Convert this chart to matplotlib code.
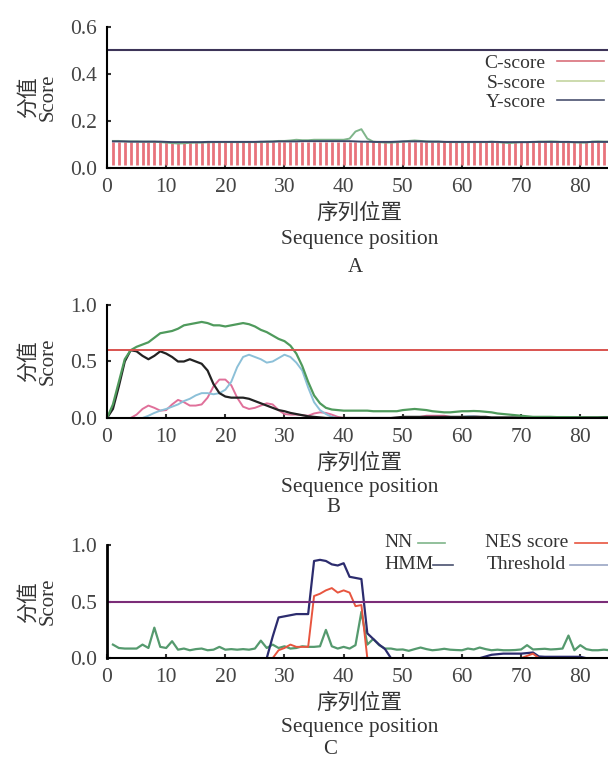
import numpy as np
import matplotlib
matplotlib.use("Agg")
import matplotlib.pyplot as plt
from matplotlib.lines import Line2D

plt.rcParams['font.family'] = ['Liberation Serif', 'Noto Sans CJK SC']
plt.rcParams['font.size'] = 15

# ---- panel A : C/S/Y scores ----
posA = np.arange(1, 86)
c_score = [0.11] * 85
s_score = [0.115, 0.115, 0.113, 0.113, 0.113, 0.112, 0.112, 0.112, 0.110, 0.108,
           0.106, 0.104, 0.105, 0.107, 0.108, 0.108, 0.109, 0.110, 0.110, 0.110,
           0.110, 0.110, 0.110, 0.110, 0.110, 0.110, 0.112, 0.113, 0.115, 0.115,
           0.117, 0.120, 0.118, 0.118, 0.120, 0.120, 0.120, 0.120, 0.120, 0.120,
           0.125, 0.155, 0.165, 0.125, 0.112, 0.110, 0.108, 0.108, 0.110, 0.112,
           0.115, 0.117, 0.115, 0.113, 0.112, 0.112, 0.111, 0.110, 0.110, 0.110,
           0.110, 0.110, 0.110, 0.110, 0.112, 0.110, 0.108, 0.106, 0.108, 0.110,
           0.110, 0.110, 0.112, 0.112, 0.113, 0.112, 0.110, 0.110, 0.109, 0.108,
           0.108, 0.112, 0.113, 0.112, 0.112]
y_score = [0.113, 0.113, 0.113, 0.112, 0.112, 0.112, 0.112, 0.112, 0.112, 0.111,
           0.110, 0.110, 0.110, 0.110, 0.110, 0.110, 0.111, 0.111, 0.111, 0.111,
           0.111, 0.111, 0.111, 0.111, 0.111, 0.112, 0.112, 0.112, 0.113, 0.113,
           0.113, 0.113, 0.114, 0.114, 0.114, 0.114, 0.114, 0.114, 0.114, 0.114,
           0.114, 0.113, 0.112, 0.112, 0.111, 0.111, 0.111, 0.111, 0.112, 0.113,
           0.113, 0.113, 0.113, 0.112, 0.112, 0.112, 0.111, 0.111, 0.111, 0.111,
           0.111, 0.111, 0.111, 0.111, 0.111, 0.111, 0.110, 0.110, 0.110, 0.110,
           0.110, 0.111, 0.111, 0.111, 0.111, 0.111, 0.111, 0.111, 0.110, 0.110,
           0.110, 0.111, 0.111, 0.111, 0.111]
cutoff_A = 0.5

# ---- panel B ----
posB = np.arange(0, 86)
b_green = [0.0, 0.12, 0.32, 0.52, 0.60, 0.63, 0.65, 0.67, 0.71, 0.75,
           0.76, 0.77, 0.79, 0.82, 0.83, 0.84, 0.85, 0.84, 0.82, 0.82,
           0.81, 0.82, 0.83, 0.84, 0.83, 0.81, 0.78, 0.76, 0.73, 0.70,
           0.68, 0.64, 0.57, 0.46, 0.32, 0.20, 0.13, 0.09, 0.075, 0.07,
           0.065, 0.065, 0.065, 0.065, 0.065, 0.06, 0.06, 0.06, 0.06, 0.06,
           0.07, 0.075, 0.08, 0.075, 0.07, 0.06, 0.055, 0.05, 0.05, 0.055,
           0.06, 0.06, 0.062, 0.06, 0.055, 0.05, 0.04, 0.035, 0.03, 0.025,
           0.02, 0.015, 0.01, 0.01, 0.01, 0.01, 0.008, 0.008, 0.008, 0.006,
           0.006, 0.005, 0.005, 0.005, 0.005, 0.005]
b_black = [0.0, 0.08, 0.28, 0.50, 0.60, 0.59, 0.55, 0.52, 0.55, 0.59,
           0.57, 0.54, 0.50, 0.50, 0.52, 0.50, 0.48, 0.42, 0.30, 0.22,
           0.19, 0.18, 0.18, 0.18, 0.17, 0.15, 0.13, 0.11, 0.09, 0.07,
           0.06, 0.045, 0.035, 0.025, 0.015, 0.01, 0.005, 0.0, 0.0, 0.0,
           0.0, 0.0, 0.0, 0.0, 0.0, 0.0, 0.0, 0.0, 0.0, 0.005,
           0.01, 0.01, 0.01, 0.01, 0.01, 0.01, 0.01, 0.01, 0.01, 0.01,
           0.01, 0.01, 0.01, 0.01, 0.01, 0.005, 0.005, 0.005, 0.005, 0.005,
           0.005, 0.005, 0.005, 0.005, 0.005, 0.005, 0.005, 0.005, 0.005, 0.005,
           0.005, 0.005, 0.005, 0.005, 0.008, 0.008]
b_pink = [0.0, 0.0, 0.0, 0.0, 0.0, 0.03, 0.08, 0.11, 0.09, 0.065,
          0.07, 0.12, 0.16, 0.14, 0.11, 0.11, 0.12, 0.18, 0.28, 0.34,
          0.34, 0.29, 0.18, 0.10, 0.08, 0.09, 0.11, 0.13, 0.12, 0.07,
          0.035, 0.03, 0.03, 0.025, 0.02, 0.04, 0.05, 0.045, 0.03, 0.01,
          0.0, 0.0, 0.0, 0.0, 0.0, 0.0, 0.0, 0.0, 0.0, 0.0,
          0.0, 0.0, 0.0, 0.01, 0.02, 0.02, 0.02, 0.02, 0.01, 0.0,
          0.0, 0.01, 0.015, 0.01, 0.0, 0.0, 0.0, 0.0, 0.0, 0.0,
          0.0, 0.0, 0.0, 0.0, 0.0, 0.0, 0.0, 0.0, 0.0, 0.0,
          0.0, 0.0, 0.0, 0.0, 0.0, 0.0]
b_blue = [0.0, 0.0, 0.0, 0.0, 0.0, 0.0, 0.0, 0.02, 0.045, 0.065,
          0.08, 0.10, 0.12, 0.15, 0.17, 0.20, 0.22, 0.22, 0.21, 0.22,
          0.25, 0.32, 0.45, 0.54, 0.56, 0.54, 0.52, 0.49, 0.50, 0.53,
          0.56, 0.54, 0.49, 0.42, 0.27, 0.14, 0.07, 0.035, 0.01, 0.0,
          0.0, 0.0, 0.0, 0.0, 0.0, 0.0, 0.0, 0.0, 0.0, 0.0,
          0.0, 0.0, 0.0, 0.0, 0.0, 0.0, 0.0, 0.0, 0.0, 0.0,
          0.01, 0.015, 0.015, 0.01, 0.0, 0.0, 0.0, 0.0, 0.0, 0.0,
          0.0, 0.0, 0.0, 0.0, 0.0, 0.0, 0.0, 0.0, 0.0, 0.0,
          0.0, 0.0, 0.0, 0.0, 0.0, 0.0]
cutoff_B = 0.6

# ---- panel C : NES prediction ----
posC = np.arange(1, 86)
nn = [0.12, 0.09, 0.085, 0.085, 0.085, 0.12, 0.09, 0.27, 0.10, 0.09,
      0.15, 0.075, 0.085, 0.07, 0.08, 0.085, 0.07, 0.075, 0.10, 0.075,
      0.08, 0.075, 0.08, 0.075, 0.085, 0.155, 0.09, 0.12, 0.09, 0.105,
      0.085, 0.09, 0.105, 0.10, 0.10, 0.105, 0.25, 0.105, 0.085, 0.10,
      0.085, 0.115, 0.41, 0.12, 0.17, 0.115, 0.085, 0.085, 0.075, 0.077,
      0.065, 0.08, 0.094, 0.08, 0.07, 0.075, 0.083, 0.075, 0.072, 0.07,
      0.085, 0.077, 0.094, 0.08, 0.07, 0.075, 0.07, 0.07, 0.072, 0.077,
      0.115, 0.077, 0.08, 0.083, 0.077, 0.08, 0.085, 0.20, 0.07, 0.115,
      0.08, 0.07, 0.07, 0.075, 0.07]
hmm = [0.0] * 27 + [0.19, 0.36, 0.37, 0.38, 0.39, 0.39, 0.39, 0.86, 0.87,
       0.86, 0.83, 0.82, 0.84, 0.72, 0.71, 0.70, 0.22, 0.17, 0.12,
       0.08, 0.0] + [0.0] * 15 + [0.015, 0.03, 0.035, 0.04, 0.04, 0.04, 0.04,
       0.045, 0.05, 0.015, 0.012, 0.012, 0.012, 0.012, 0.012, 0.012, 0.012,
       0.0, 0.0, 0.0, 0.0, 0.0]
nes = [0.0] * 28 + [0.07, 0.09, 0.12, 0.10, 0.10, 0.10, 0.55, 0.57, 0.60,
       0.62, 0.58, 0.60, 0.58, 0.46, 0.47, 0.0] + [0.0] * 26 + [0.02, 0.04,
       0.0] + [0.0] * 12
threshold_C = 0.5

fig = plt.figure(figsize=(6.08, 7.6), dpi=100)

def style_axes(ax, ymax, yticks, ylabels):
    ax.set_xlim(0, 85.3)
    ax.set_ylim(0, ymax)
    ax.set_xticks(np.arange(0, 81, 10))
    ax.set_yticks(yticks)
    ax.set_yticklabels(ylabels)
    ax.spines['top'].set_visible(False)
    ax.spines['right'].set_visible(False)
    ax.spines['left'].set_linewidth(1.5)
    ax.spines['bottom'].set_linewidth(1.5)
    ax.tick_params(direction='in', length=3, width=1.5, pad=7, labelsize=15.5,
                   colors='#333333', labelcolor='#444444')
    ax.set_xlabel("序列位置\nSequence position", linespacing=1.3, labelpad=5,
                  color='#333333', fontsize=15.5)
    ax.set_ylabel("分值\nScore", linespacing=1.0, color='#333333')
    ax.yaxis.set_label_coords(-0.098, 0.5)

# A
axA = fig.add_axes([0.176, 0.779, 0.83, 0.1855])
axA.vlines(posA, 0.012, c_score, color='#e8737c', lw=2.0)
axA.plot(posA, s_score, color='#7fb58a', lw=1.4)
axA.plot(posA, y_score, color='#3a4868', lw=1.4)
axA.axhline(cutoff_A, color='#3d3458', lw=1.5)
style_axes(axA, 0.6, [0.0, 0.2, 0.4, 0.6], ['0.0', '0.2', '0.4', '0.6'])
axA.set_xlabel("序列位置\nSequence position", linespacing=1.45, labelpad=5,
               color='#333333', fontsize=15.5)
hA = [Line2D([], [], color='#d9707a', lw=1.2),
      Line2D([], [], color='#c4d4a0', lw=1.2),
      Line2D([], [], color='#4a5270', lw=1.2)]
axA.legend(hA, ['C-score', 'S-score', 'Y-score'], loc='upper right',
           bbox_to_anchor=(1.0, 0.86), frameon=False, markerfirst=False,
           handlelength=2.4, handletextpad=0.6, labelspacing=0.1, fontsize=14,
           borderaxespad=0, labelcolor='#333333')
fig.text(0.584, 1 - 268 / 760, "A", ha='center', va='center', fontsize=15,
         color='#333333')

# B
axB = fig.add_axes([0.176, 0.45, 0.83, 0.1487])
axB.plot(posB, b_pink, color='#e0709a', lw=1.4)
axB.plot(posB, b_blue, color='#8cc0d8', lw=1.4)
axB.plot(posB, b_black, color='#222222', lw=1.6)
axB.plot(posB, b_green, color='#4f9a5c', lw=1.6)
axB.axhline(cutoff_B, color='#d9534f', lw=1.4)
style_axes(axB, 1.0, [0.0, 0.5, 1.0], ['0.0', '0.5', '1.0'])
fig.text(0.548, 1 - 507 / 760, "B", ha='center', va='center', fontsize=15,
         color='#333333')

# C
axC = fig.add_axes([0.176, 0.134, 0.83, 0.1487])
axC.plot(posC, nn, color='#559a6e', lw=1.6)
axC.plot(posC, hmm, color='#2c2c6e', lw=1.6)
axC.plot(posC, nes, color='#e8553f', lw=1.4)
axC.axhline(threshold_C, color='#7b2d78', lw=1.5)
style_axes(axC, 1.0, [0.0, 0.5, 1.0], ['0.0', '0.5', '1.0'])
axC.spines['left'].set_linewidth(2.0)

# hand-placed key, as in the original figure
key_labels = ['NN', 'HMM', 'NES score', 'Threshold']
key_colors = ['#7fb58a', '#4a5270', '#e8553f', '#9aa6c4']
key_text_x = [0.550, 0.550, 0.749, 0.752]
key_y = [1.02, 0.825, 1.02, 0.825]
key_line_x = [(0.616, 0.669), (0.646, 0.685), (0.927, 0.995), (0.917, 0.995)]
for lab, col, tx, ty, (x0, x1) in zip(key_labels, key_colors, key_text_x,
                                      key_y, key_line_x):
    axC.text(tx, ty, lab, transform=axC.transAxes, ha='left', va='center',
             fontsize=14, color='#333333')
    axC.plot([x0, x1], [ty, ty], transform=axC.transAxes, color=col, lw=1.2,
             clip_on=False)
fig.text(0.543, 1 - 750 / 760, "C", ha='center', va='center', fontsize=15,
         color='#333333')

fig.savefig("out.png", dpi=100)
